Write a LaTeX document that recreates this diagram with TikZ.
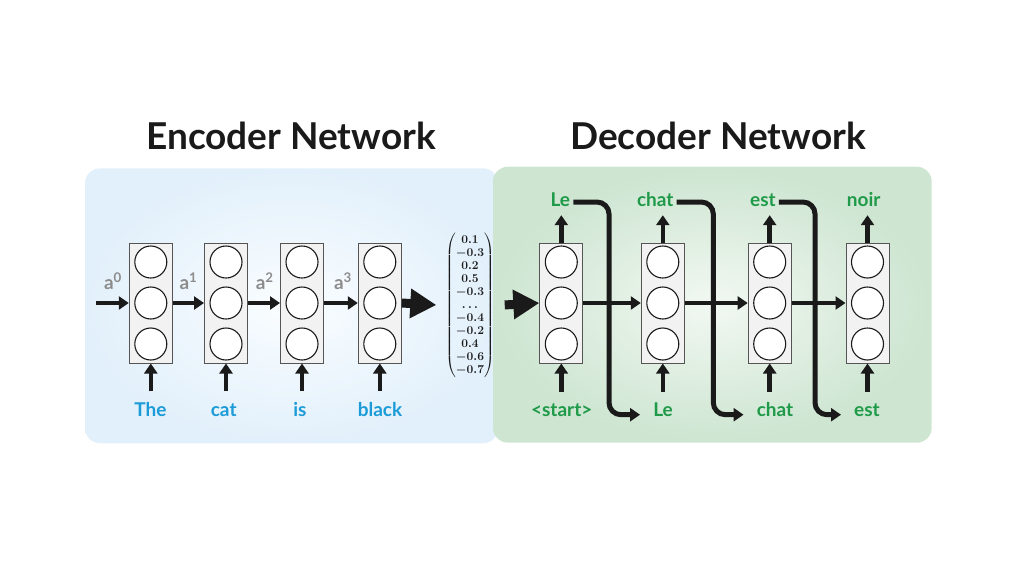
\documentclass[tikz,border=0pt]{standalone}
\usepackage{amsmath}
\usepackage[no-math]{fontspec}
\setmainfont{Lato}
\usetikzlibrary{arrows.meta}
\definecolor{encblue}{HTML}{1B9BD7}
\definecolor{decgreen}{HTML}{1E9A48}
\definecolor{agray}{HTML}{8C8C8C}
\definecolor{ink}{HTML}{1A1A1A}
\definecolor{cellfill}{HTML}{F2F2F2}
\definecolor{cellline}{HTML}{555555}
\definecolor{encin}{HTML}{FAFDFF}
\definecolor{encout}{HTML}{E2F0FB}
\definecolor{decin}{HTML}{F2F8F2}
\definecolor{decout}{HTML}{CDE5D1}
\tikzset{
  cell/.style={draw=cellline, fill=cellfill, line width=1pt, inner sep=0pt,
    minimum width=43pt, minimum height=120pt,
    path picture={\foreach \dy in {-41,0,41}
      \draw[fill=white, draw=ink, line width=1.1pt]
        ([yshift=\dy pt]path picture bounding box.center) circle[radius=16pt];}},
  word/.style={font=\fontsize{19}{20}\selectfont\bfseries, inner sep=3pt,
    text height=14pt, text depth=4pt, anchor=base},
  encword/.style={word, text=encblue},
  decword/.style={word, text=decgreen},
  title/.style={font=\fontsize{37}{40}\selectfont\bfseries, text=ink, anchor=base},
  state/.style={font=\fontsize{19}{20}\selectfont\bfseries, text=agray, anchor=base},
  vector/.style={inner sep=0pt, text=ink, font=\fontsize{12.5}{13}\selectfont\boldmath},
  link/.style={draw=ink, line width=4.5pt, -{Triangle[length=10pt,width=13pt]}},
  bigarrow/.style={draw=ink, line width=9pt, -{Triangle[length=26pt,width=28pt]}},
  feed/.style={draw=ink, line width=5pt, rounded corners=12pt,
    -{Triangle[length=10pt,width=13pt]}}
}
\begin{document}
\begin{tikzpicture}[x=1pt, y=-1pt]
  \useasboundingbox (0,0) rectangle (1024,576);
  % panels
  \shade[inner color=encin, outer color=encout, rounded corners=15pt]
    (85,168.3) rectangle (498,443.3);
  \shade[inner color=decin, outer color=decout, rounded corners=15pt]
    (493,166.7) rectangle (931.7,442.7);
  \node[title] (enctitle) at (291,149.3) {Encoder Network};
  \node[title] (dectitle) at (718,149.3) {Decoder Network};
  % encoder
  \node[cell] (e1) at (150.8,303) {};
  \node[cell] (e2) at (226,303) {};
  \node[cell] (e3) at (302,303) {};
  \node[cell] (e4) at (379.8,303) {};
  \node[encword] (w1) at (150.5,416.5) {The};
  \node[encword] (w2) at (223.7,416.5) {cat};
  \node[encword] (w3) at (300,416.5) {is};
  \node[encword] (w4) at (380,416.5) {black};
  \node[state] (a0) at (113,289) {a\textsuperscript{0}};
  \node[state] (a1) at (188.5,289) {a\textsuperscript{1}};
  \node[state] (a2) at (264.7,289) {a\textsuperscript{2}};
  \node[state] (a3) at (343,289) {a\textsuperscript{3}};
  \coordinate (a0in) at (96,303);
  \node[vector] (vec) at (470,305.5)
    {$\begin{pmatrix}0.1\\-0.3\\0.2\\0.5\\-0.3\\\ldots\\-0.4\\-0.2\\0.4\\-0.6\\-0.7\end{pmatrix}$};
  % decoder
  \node[cell] (d1) at (561.3,303) {};
  \node[cell] (d2) at (662.8,303) {};
  \node[cell] (d3) at (769.7,303) {};
  \node[cell] (d4) at (867.5,303) {};
  \node[decword] (t1) at (560.3,206) {Le};
  \node[decword] (t2) at (655.3,206) {chat};
  \node[decword] (t3) at (763,206) {est};
  \node[decword] (t4) at (863.7,206) {noir};
  \node[decword] (b1) at (561.7,416.7) {<start>};
  \node[decword] (b2) at (663,416.7) {Le};
  \node[decword] (b3) at (775,416.7) {chat};
  \node[decword] (b4) at (867,416.7) {est};
  \coordinate (v1) at (609,300);
  \coordinate (v2) at (713.3,300);
  \coordinate (v3) at (815,300);
  \begin{scope}[link]
    \draw (a0in) to (e1.west);
    \draw (e1.east) to (e2.west);
    \draw (e2.east) to (e3.west);
    \draw (e3.east) to (e4.west);
    \draw[shorten <=8pt] (e1.south |- w1.north) to (e1.south);
    \draw[shorten <=8pt] (e2.south |- w2.north) to (e2.south);
    \draw[shorten <=8pt] (e3.south |- w3.north) to (e3.south);
    \draw[shorten <=8pt] (e4.south |- w4.north) to (e4.south);
    \draw (d1.east) to (d2.west);
    \draw (d2.east) to (d3.west);
    \draw (d3.east) to (d4.west);
    \draw[shorten <=8pt] (d1.south |- b1.north) to (d1.south);
    \draw[shorten <=8pt] (d2.south |- b2.north) to (d2.south);
    \draw[shorten <=8pt] (d3.south |- b3.north) to (d3.south);
    \draw[shorten <=8pt] (d4.south |- b4.north) to (d4.south);
    \draw[shorten >=2pt] (d1.north) to (d1.north |- t1.south);
    \draw[shorten >=2pt] (d2.north) to (d2.north |- t2.south);
    \draw[shorten >=2pt] (d3.north) to (d3.north |- t3.south);
    \draw[shorten >=2pt] (d4.north) to (d4.north |- t4.south);
  \end{scope}
  \draw[bigarrow, shorten >=9pt] (e4.east) to (vec.west);
  \draw[bigarrow, shorten <=10pt] (vec.east) to (d1.west);
  \draw[feed, shorten >=10pt] ([yshift=4pt]t1.base east) -| (v1) |- ([yshift=2pt]b2.base west);
  \draw[feed, shorten >=10pt] ([yshift=4pt]t2.base east) -| (v2) |- ([yshift=2pt]b3.base west);
  \draw[feed, shorten >=10pt] ([yshift=4pt]t3.base east) -| (v3) |- ([yshift=2pt]b4.base west);
\end{tikzpicture}
\end{document}
